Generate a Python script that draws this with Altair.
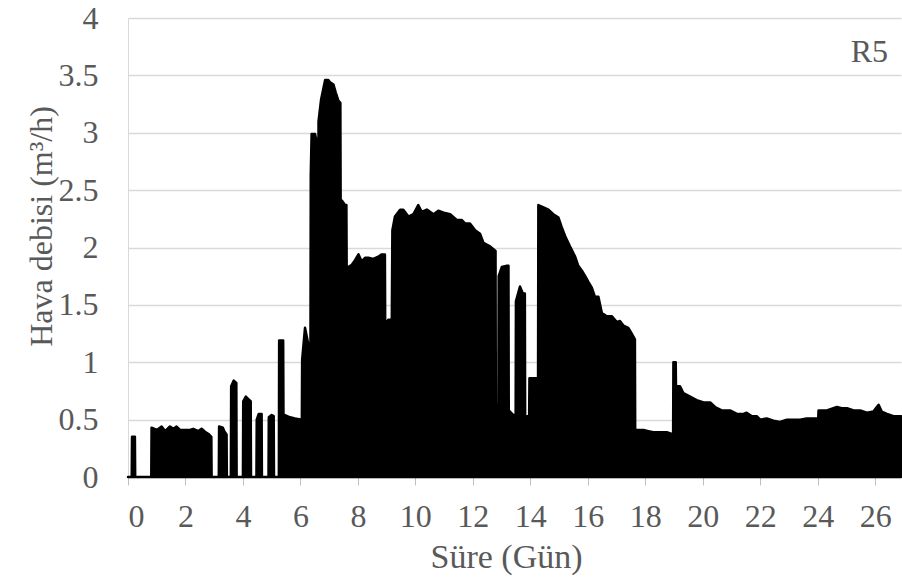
import altair as alt
import pandas as pd

# Envelope of the air-flow record (day, m3/h)
days = [
    0.00, 0.13, 0.14, 0.24, 0.25, 0.81, 0.82, 1.00, 1.17, 1.29, 1.46, 1.58, 1.69, 1.81, 1.98, 2.16,
    2.27, 2.45, 2.56, 2.68, 2.80, 2.90, 2.91, 3.16, 3.17, 3.30, 3.36, 3.43, 3.44, 3.58, 3.59, 3.68,
    3.77, 3.78, 4.00, 4.01, 4.10, 4.18, 4.27, 4.28, 4.47, 4.48, 4.55, 4.65, 4.66, 4.89, 4.90, 5.00,
    5.07, 5.08, 5.25, 5.26, 5.40, 5.41, 5.46, 5.64, 5.81, 6.05, 6.06, 6.16, 6.28, 6.35, 6.36, 6.39,
    6.51, 6.54, 6.57, 6.58, 6.62, 6.63, 6.72, 6.86, 6.97, 7.03, 7.15, 7.23, 7.32, 7.39, 7.40, 7.44,
    7.55, 7.60, 7.61, 7.79, 7.90, 8.02, 8.13, 8.25, 8.36, 8.54, 8.71, 8.83, 8.94, 8.95, 9.06, 9.18,
    9.20, 9.29, 9.47, 9.58, 9.76, 9.93, 10.10, 10.22, 10.40, 10.63, 10.80, 11.03, 11.21, 11.44, 11.61, 11.73,
    11.90, 12.08, 12.25, 12.37, 12.60, 12.79, 12.80, 12.89, 12.90, 13.01, 13.16, 13.24, 13.25, 13.41, 13.49, 13.50,
    13.64, 13.74, 13.81, 13.82, 13.96, 13.97, 14.27, 14.28, 14.46, 14.63, 14.80, 14.98, 15.09, 15.21, 15.38, 15.56,
    15.67, 15.79, 15.91, 16.02, 16.14, 16.25, 16.37, 16.49, 16.66, 16.84, 17.01, 17.12, 17.24, 17.41, 17.53, 17.64,
    17.65, 17.94, 18.11, 18.28, 18.52, 18.75, 18.97, 18.98, 19.06, 19.07, 19.21, 19.33, 19.56, 19.79, 20.03, 20.26,
    20.43, 20.66, 20.95, 21.19, 21.42, 21.53, 21.71, 21.88, 22.00, 22.23, 22.46, 22.69, 22.93, 23.16, 23.39, 23.62,
    24.02, 24.03, 24.32, 24.67, 24.84, 25.02, 25.25, 25.48, 25.71, 25.94, 26.12, 26.23, 26.41, 26.64, 26.90,
]
flow = [
    0.00, 0.00, 0.35, 0.35, 0.00, 0.00, 0.43, 0.41, 0.44, 0.40, 0.44, 0.42, 0.44, 0.41, 0.41, 0.41,
    0.42, 0.40, 0.42, 0.395, 0.375, 0.35, 0.00, 0.00, 0.44, 0.43, 0.395, 0.37, 0.00, 0.00, 0.79, 0.84,
    0.82, 0.00, 0.00, 0.66, 0.70, 0.68, 0.66, 0.00, 0.00, 0.50, 0.55, 0.55, 0.00, 0.00, 0.52, 0.54,
    0.53, 0.00, 0.00, 1.19, 1.19, 0.54, 0.54, 0.52, 0.51, 0.50, 1.02, 1.30, 1.15, 1.17, 2.63, 2.99,
    2.99, 2.95, 2.95, 1.35, 1.35, 3.10, 3.29, 3.46, 3.46, 3.44, 3.42, 3.35, 3.28, 3.26, 2.41, 2.41,
    2.37, 2.37, 1.82, 1.85, 1.89, 1.94, 1.88, 1.91, 1.91, 1.90, 1.92, 1.94, 1.94, 1.33, 1.37, 1.37,
    2.15, 2.27, 2.33, 2.33, 2.27, 2.29, 2.37, 2.31, 2.33, 2.29, 2.32, 2.30, 2.29, 2.24, 2.24, 2.21,
    2.21, 2.15, 2.12, 2.04, 2.01, 1.97, 0.64, 0.62, 1.75, 1.83, 1.84, 1.84, 0.58, 0.54, 0.54, 1.53,
    1.66, 1.60, 1.60, 0.53, 0.53, 0.86, 0.86, 2.37, 2.35, 2.33, 2.29, 2.26, 2.18, 2.10, 2.01, 1.92,
    1.84, 1.80, 1.75, 1.70, 1.65, 1.57, 1.57, 1.43, 1.40, 1.40, 1.35, 1.36, 1.32, 1.30, 1.25, 1.20,
    0.41, 0.41, 0.40, 0.39, 0.39, 0.39, 0.37, 1.00, 1.00, 0.79, 0.79, 0.73, 0.70, 0.67, 0.65, 0.65,
    0.61, 0.58, 0.58, 0.55, 0.55, 0.56, 0.53, 0.53, 0.50, 0.51, 0.49, 0.48, 0.50, 0.50, 0.50, 0.51,
    0.51, 0.58, 0.58, 0.61, 0.60, 0.60, 0.58, 0.58, 0.56, 0.57, 0.63, 0.57, 0.55, 0.53, 0.53,
]

x_ticks = list(range(0, 27, 2))
y_ticks = [0, 0.5, 1, 1.5, 2, 2.5, 3, 3.5, 4]
panel_label = ["R5"]

df = pd.DataFrame({"day": days, "flow": flow})

FONT = "Liberation Serif"
TXT = "#595959"

area = alt.Chart(df).mark_area(
    color="black", stroke="black", strokeWidth=2.5, strokeJoin="round", interpolate="linear"
).encode(
    x=alt.X(
        "day:Q",
        scale=alt.Scale(domain=[0, 26.9], nice=False),
        axis=alt.Axis(
            values=x_ticks, title="Süre (Gün)", grid=False,
            tickColor="#bfbfbf", tickSize=8, domainColor="#bfbfbf", domainWidth=1,
            labelPadding=16, titlePadding=8, titleFontSize=34,
            titleX=378, titleAlign="center",
        ),
    ),
    y=alt.Y(
        "flow:Q",
        scale=alt.Scale(domain=[0, 4], nice=False),
        axis=alt.Axis(
            values=y_ticks, format="~g", title="Hava debisi (m³/h)",
            grid=True, gridColor="#d9d9d9", gridWidth=1.3, ticks=False,
            domainColor="#d9d9d9", labelPadding=30,
            titleX=-87, titleY=208, titleAngle=270, titleAlign="center", titleBaseline="middle",
        ),
    ),
)

label = alt.Chart(pd.DataFrame({"t": panel_label})).mark_text(
    font=FONT, fontSize=32, color=TXT, align="right", baseline="alphabetic"
).encode(text="t:N", x=alt.value(760), y=alt.value(44))

chart = alt.layer(area, label).properties(
    width=773, height=459,
    autosize=alt.AutoSizeParams(type="none"),
    padding={"left": 128, "top": 18, "right": 1, "bottom": 108},
).configure_view(stroke=None).configure_axis(
    labelFont=FONT, labelFontSize=32, labelColor=TXT,
    titleFont=FONT, titleFontSize=32, titleColor=TXT, titleFontWeight="normal",
)

chart.save("out.html", embed_options={"renderer": "svg", "actions": False})
